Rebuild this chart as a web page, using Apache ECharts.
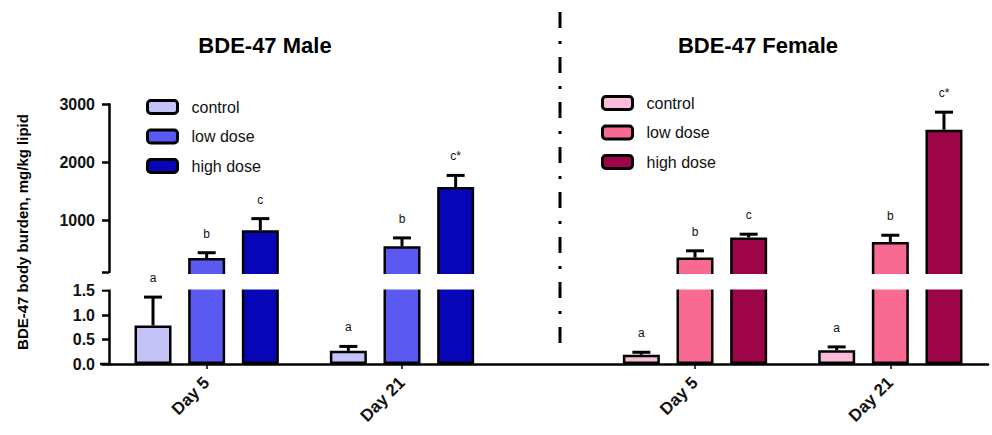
<!DOCTYPE html>
<html><head><meta charset="utf-8">
<script src="https://cdn.jsdelivr.net/npm/echarts@6/dist/echarts.min.js"></script>
<style>html,body{margin:0;padding:0;background:#fff}#c{width:992px;height:435px}</style>
</head><body><div id="c"></div>
<script>
// ---------------- data ----------------
const categories = ['Day 5', 'Day 21'];
const groupTitles = ['BDE-47 Male', 'BDE-47 Female'];
const doses = ['control', 'low dose', 'high dose'];

const maleControl = [0.79, 0.27];
const maleControlErr = [0.58, 0.09];
const maleLow = [345, 548];
const maleLowErr = [90, 143];
const maleHigh = [824, 1571];
const maleHighErr = [200, 200];

const femaleControl = [0.19, 0.28];
const femaleControlErr = [0.05, 0.07];
const femaleLow = [353, 622];
const femaleLowErr = [115, 115];
const femaleHigh = [698, 2560];
const femaleHighErr = [57, 304];

const maleLetters = [['a', 'a'], ['b', 'b'], ['c', 'c*']];    // [dose][day]
const femaleLetters = [['a', 'a'], ['b', 'b'], ['c', 'c*']];

const upperTickLabels = [1000, 2000, 3000];
const lowerTickLabels = [0, 0.5, 1.0, 1.5];
const yAxisTitle = 'BDE-47 body burden, mg/kg lipid';

// ---------------- style ----------------
const FONT = '"Liberation Sans", Arial, Helvetica, sans-serif';
const maleColors = ['#c3c3f7', '#5a5af2', '#0606b8'];
const femaleColors = ['#f9bcd9', '#f96a93', '#9e0448'];
const BAR_W = 37, BAR_GAP_RATIO = 0.45;
const UPPER_MIN = 100, UPPER_MAX = 3000, LOWER_MAX = 1.72, LOWER_LIMIT = 1.5;
const AXIS_W = 2.5;

// ---------------- build ----------------
const NSLOT = 10;
const maleSlot = i => 1 + 2 * i;
const femaleSlot = i => 6 + 2 * i;
const axisData = new Array(NSLOT).fill('');
categories.forEach((c, i) => { axisData[maleSlot(i)] = c; axisData[femaleSlot(i)] = c; });

const maleVals = [maleControl, maleLow, maleHigh], maleErrs = [maleControlErr, maleLowErr, maleHighErr];
const femVals = [femaleControl, femaleLow, femaleHigh], femErrs = [femaleControlErr, femaleLowErr, femaleHighErr];

const values = doses.map(() => new Array(NSLOT).fill(null));
const items = [];
doses.forEach((d, k) => {
  categories.forEach((c, i) => {
    values[k][maleSlot(i)] = maleVals[k][i];
    values[k][femaleSlot(i)] = femVals[k][i];
    items.push({ slot: maleSlot(i), v: maleVals[k][i], e: maleErrs[k][i], d: k, letter: maleLetters[k][i] });
    items.push({ slot: femaleSlot(i), v: femVals[k][i], e: femErrs[k][i], d: k, letter: femaleLetters[k][i] });
  });
});

const series = [];
[0, 1].forEach(seg => {
  doses.forEach((name, k) => {
    series.push({
      type: 'bar', name, xAxisIndex: seg, yAxisIndex: seg,
      data: values[k], barWidth: BAR_W, barGap: (BAR_GAP_RATIO * 100) + '%',
      clip: seg === 1, z: 2,
      itemStyle: {
        color: p => (p.dataIndex < 5 ? maleColors : femaleColors)[k],
        borderColor: '#000', borderWidth: 2.5
      },
      emphasis: { disabled: true }
    });
  });
  series.push({
    type: 'custom', xAxisIndex: seg, yAxisIndex: seg, z: 10, clip: false,
    encode: { x: 0, y: 1 },
    data: items.map(o => [o.slot, o.v, o.e]),
    renderItem: (params, api) => {
      const it = items[params.dataIndex];
      const show = seg === 0 ? it.v >= UPPER_MIN : (it.v + it.e) <= LOWER_LIMIT;
      if (!show) return null;
      const b = api.coord([it.slot, it.v]);
      const t = api.coord([it.slot, it.v + it.e]);
      const x = b[0] + (it.d - 1) * BAR_W * (1 + BAR_GAP_RATIO);
      const ls = { stroke: '#000', lineWidth: 3 };
      return {
        type: 'group', children: [
          { type: 'line', shape: { x1: x, y1: b[1], x2: x, y2: t[1] }, style: ls },
          { type: 'line', shape: { x1: x - 9, y1: t[1], x2: x + 9, y2: t[1] }, style: ls },
          { type: 'text', x: x, y: t[1] - 19, style: { text: it.letter, fill: '#111', stroke: null, font: '12px ' + FONT, textAlign: 'center', textVerticalAlign: 'middle' } }
        ]
      };
    }
  });
});

const legendBase = {
  orient: 'vertical', itemWidth: 30, itemHeight: 13, itemGap: 13.5, icon: 'roundRect',
  selectedMode: false,
  itemStyle: { borderColor: '#000', borderWidth: 3 },
  textStyle: { fontSize: 16, color: '#111', fontFamily: FONT, padding: [0, 0, 0, 9] }
};

const option = {
  animation: false,
  backgroundColor: '#fff',
  grid: [
    { left: 109, right: 4, top: 104.3, height: 167.8 },
    { left: 109, right: 4, top: 280, height: 84 }
  ],
  xAxis: [
    { type: 'category', gridIndex: 0, data: axisData, boundaryGap: false, show: false },
    {
      type: 'category', gridIndex: 1, data: axisData, boundaryGap: false,
      axisLine: { lineStyle: { color: '#000', width: AXIS_W } },
      axisTick: { length: 5, lineStyle: { width: 1.5, color: '#000' }, interval: (i, v) => v !== '' },
      axisLabel: { interval: 0, rotate: 45, margin: 16, fontSize: 17, fontWeight: 'bold', color: '#111', fontFamily: FONT }
    }
  ],
  yAxis: [
    {
      type: 'value', gridIndex: 0, min: UPPER_MIN, max: UPPER_MAX,
      splitLine: { show: false },
      axisLine: { show: true, lineStyle: { color: '#000', width: AXIS_W } },
      axisTick: { show: true, length: 7, lineStyle: { width: AXIS_W, color: '#000' }, customValues: [UPPER_MIN].concat(upperTickLabels) },
      axisLabel: { customValues: upperTickLabels, formatter: v => String(v), margin: 14, fontSize: 16, fontWeight: 'bold', color: '#111', fontFamily: FONT }
    },
    {
      type: 'value', gridIndex: 1, min: 0, max: LOWER_MAX,
      splitLine: { show: false },
      axisLine: { show: true, lineStyle: { color: '#000', width: AXIS_W } },
      axisTick: { show: true, length: 7, lineStyle: { width: AXIS_W, color: '#000' }, customValues: lowerTickLabels },
      axisLabel: { customValues: lowerTickLabels, formatter: v => v.toFixed(1), margin: 14, fontSize: 16, fontWeight: 'bold', color: '#111', fontFamily: FONT }
    }
  ],
  legend: [
    Object.assign({}, legendBase, { left: 141, top: 94, data: doses.map((n, i) => ({ name: n, itemStyle: { color: maleColors[i] } })) }),
    Object.assign({}, legendBase, { left: 596, top: 90, data: doses.map((n, i) => ({ name: n, itemStyle: { color: femaleColors[i] } })) })
  ],
  graphic: [
    { type: 'rect', z: 5, shape: { x: 98, y: 274, width: 894, height: 15.5 }, style: { fill: '#fff' } },
    { type: 'line', z: 6, shape: { x1: 560, y1: 12, x2: 560, y2: 356 }, style: { stroke: '#000', lineWidth: 3, lineDash: [16, 13, 3, 13] } },
    { type: 'line', z: 6, shape: { x1: 100, y1: 364, x2: 110, y2: 364 }, style: { stroke: '#000', lineWidth: AXIS_W } },
    { type: 'text', z: 6, x: 265, y: 45, style: { text: groupTitles[0], font: 'bold 22px ' + FONT, fill: '#000', textAlign: 'center', textVerticalAlign: 'middle' } },
    { type: 'text', z: 6, x: 758, y: 45, style: { text: groupTitles[1], font: 'bold 22px ' + FONT, fill: '#000', textAlign: 'center', textVerticalAlign: 'middle' } },
    { type: 'text', z: 6, x: 22, y: 232, rotation: Math.PI / 2, style: { text: yAxisTitle, font: 'bold 15px ' + FONT, fill: '#000', textAlign: 'center', textVerticalAlign: 'middle' } }
  ],
  series
};

const chart = echarts.init(document.getElementById('c'), null, { renderer: 'svg' });
chart.setOption(option);
</script>
</body></html>
